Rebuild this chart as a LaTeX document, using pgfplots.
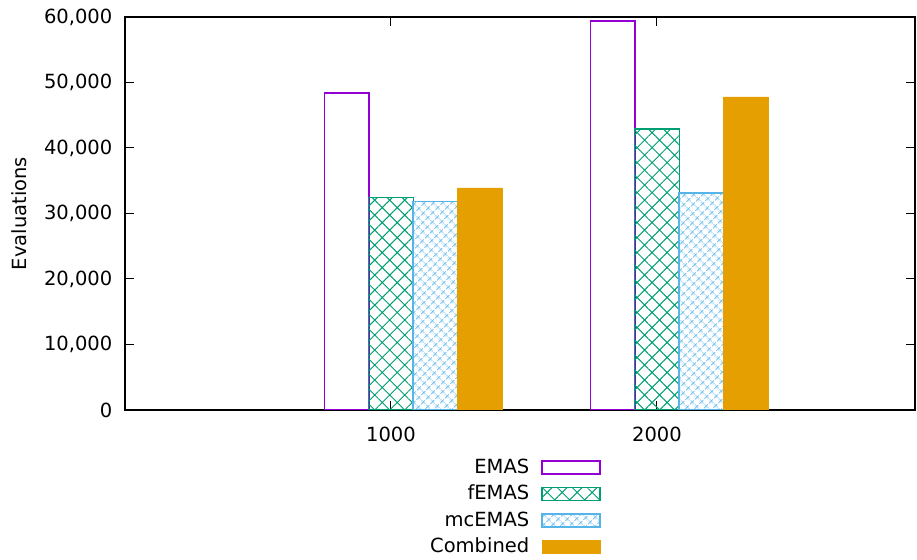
\documentclass[border=0pt]{standalone}
\usepackage{pgfplots}
\pgfplotsset{compat=1.18}
\usetikzlibrary{patterns.meta}
\usepackage{fontspec}
\setmainfont{DejaVu Sans}
\definecolor{cpurple}{HTML}{9400D3}
\definecolor{cgreen}{HTML}{009E73}
\definecolor{cblue}{HTML}{56B4E9}
\definecolor{corange}{HTML}{E69F00}
\begin{document}
\fontsize{19.5}{23.4}\selectfont
\begin{tikzpicture}
\begin{axis}[
  name=ax,
  width=790pt, height=393pt, scale only axis,
  xmin=-1, xmax=1.97, ymin=0, ymax=60000,
  xtick={0,1}, xticklabels={1000,2000},
  ytick={0,10000,20000,30000,40000,50000,60000},
  scaled y ticks=false,
  /pgf/number format/assume math mode=true,
  yticklabel style={/pgf/number format/1000 sep={,}, xshift=-6pt},
  xticklabel style={yshift=-10pt},
  tick align=inside, major tick length=9pt,
  tick style={black, line width=1pt},
  axis line style={line width=1.2pt},
  ylabel={Evaluations},
  ylabel shift=4pt,
  every axis label/.append style={font=\fontsize{19.5}{23.4}\selectfont},
  ticklabel style={font=\fontsize{19.5}{23.4}\selectfont},
  mybar/.style={ybar, bar width=0.16667,
    legend image code/.code={\draw[##1] (0pt,-6.5pt) rectangle (58pt,6.5pt);}},
  legend style={at={(0.493,-0.113)}, anchor=north, draw=none, fill=none,
    font=\fontsize{19.5}{23.4}\selectfont, row sep=5pt,
    /tikz/every odd column/.append style={column sep=10pt}},
  legend cell align=right,
  legend plot pos=right,
]
\addplot[mybar, bar shift=-0.16667, draw=cpurple, line width=1.5pt, fill=none]
  coordinates {(0,48400) (1,59400)};
\addlegendentry{EMAS}
\addplot[mybar, bar shift=0, draw=cgreen, line width=1.2pt,
  pattern={Hatch[angle=45,distance=10.6pt,line width=1pt]}, pattern color=cgreen]
  coordinates {(0,32400) (1,42900)};
\addlegendentry{fEMAS}
\addplot[mybar, bar shift=0.16667, draw=cblue, line width=1.4pt,
  pattern={Hatch[angle=45,distance=6.4pt,line width=0.9pt]}, pattern color=cblue]
  coordinates {(0,31800) (1,33100)};
\addlegendentry{mcEMAS}
\addplot[mybar, bar shift=0.33333, draw=corange, line width=0.6pt, fill=corange]
  coordinates {(0,33900) (1,47800)};
\addlegendentry{Combined}
\end{axis}
\path ([shift={(-125pt,-148pt)}]ax.south west) rectangle ([shift={(2pt,17pt)}]ax.north east);
\end{tikzpicture}
\end{document}
